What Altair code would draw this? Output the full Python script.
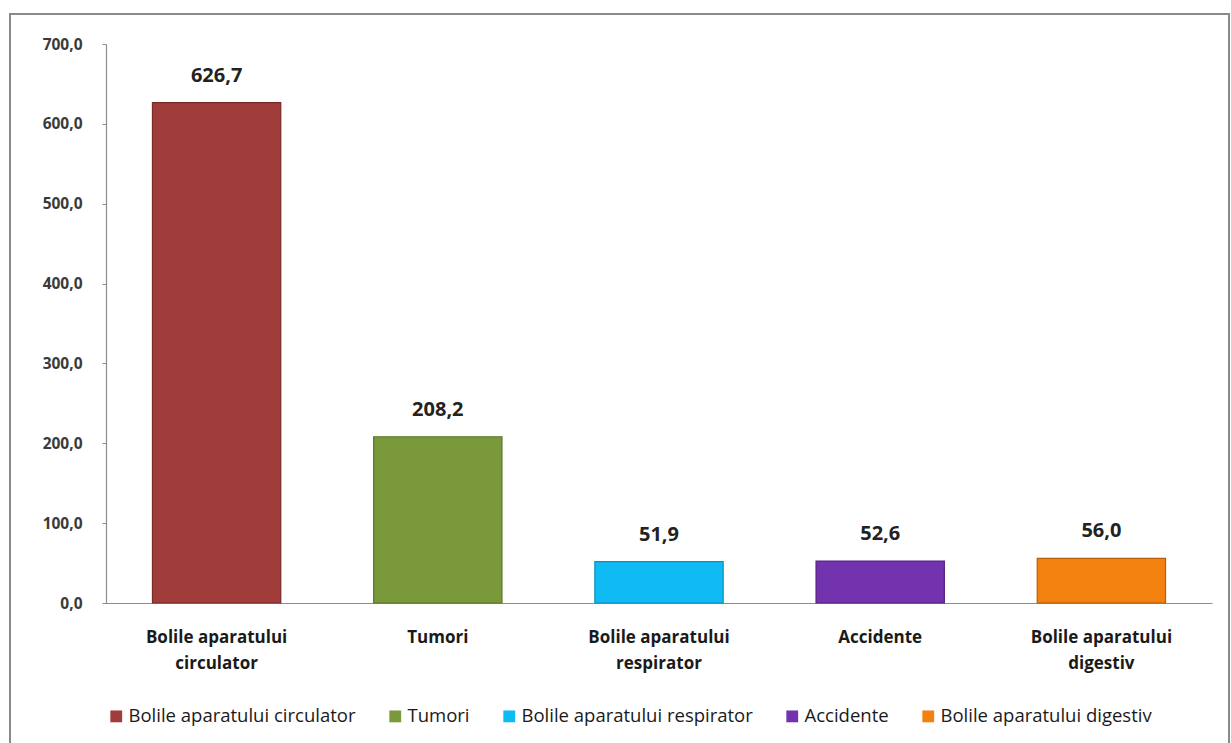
import altair as alt
import pandas as pd

categories = [
    "Bolile aparatului circulator",
    "Tumori",
    "Bolile aparatului respirator",
    "Accidente",
    "Bolile aparatului digestiv",
]
values = [626.7, 208.2, 51.9, 52.6, 56.0]
colors = ["#A03D3B", "#7A993B", "#0FBBF2", "#7433AE", "#F3810F"]
strokes = ["#7A2A28", "#5A7428", "#0A8EBA", "#55207F", "#B85E08"]
y_ticks = [0, 100, 200, 300, 400, 500, 600, 700]

df = pd.DataFrame({"cat": categories, "val": values})
df["lbl"] = [f"{v:.1f}".replace(".", ",") for v in values]

FONT = "Open Sans"
W, H = 1106, 559
PAD_L, PAD_T = 106, 44

x_enc = alt.X(
    "cat:N",
    sort=categories,
    scale=alt.Scale(paddingInner=0.42, paddingOuter=0.21),
    axis=alt.Axis(
        title=None,
        labelAngle=0,
        labelFont=FONT,
        labelFontWeight="bold",
        labelFontSize=17,
        labelColor="#1a1a1a",
        labelPadding=34,
        labelLineHeight=26,
        labelBaseline="middle",
        labelLimit=400,
        ticks=False,
        domainColor="#8c8c8c",
        domainWidth=1.2,
        labelExpr="substring(datum.label, 0, 18) == 'Bolile aparatului ' ? ['Bolile aparatului', substring(datum.label, 18)] : datum.label",
    ),
)
y_enc = alt.Y(
    "val:Q",
    scale=alt.Scale(domain=[0, 700], nice=False),
    axis=alt.Axis(
        title=None,
        values=y_ticks,
        grid=False,
        labelFont=FONT,
        labelFontWeight="bold",
        labelFontSize=15.5,
        labelColor="#3a3a3a",
        labelPadding=20,
        tickSize=4,
        tickColor="#8c8c8c",
        domainColor="#8c8c8c",
        domainWidth=1.2,
        labelExpr="replace(format(datum.value, '.1f'), '.', ',')",
    ),
)

color_enc = alt.Color(
    "cat:N",
    sort=categories,
    scale=alt.Scale(domain=categories, range=colors),
    legend=alt.Legend(
        title=None,
        orient="none",
        direction="horizontal",
        legendX=1,
        legendY=663,
        symbolType="square",
        symbolSize=140,
        symbolStrokeWidth=0,
        labelFont=FONT,
        labelFontSize=18.5,
        labelLimit=400,
        labelColor="#1a1a1a",
        labelOffset=3,
        columnPadding=30,
    ),
)

bars = alt.Chart(df).mark_bar(strokeWidth=1.2).encode(
    x=x_enc,
    y=y_enc,
    color=color_enc,
    stroke=alt.Stroke("cat:N", sort=categories,
                      scale=alt.Scale(domain=categories, range=strokes), legend=None),
)

text = alt.Chart(df).mark_text(
    font=FONT, fontWeight="bold", fontSize=20, color="#222222", dy=-27, baseline="middle"
).encode(
    x=alt.X("cat:N", sort=categories),
    y="val:Q",
    text="lbl:N",
)

frame = alt.Chart(pd.DataFrame({"a": [0]})).mark_rect(
    fill="transparent", stroke="#8a8a8a", strokeWidth=2
).encode(
    x=alt.value(10 - PAD_L),
    x2=alt.value(1229 - PAD_L),
    y=alt.value(14 - PAD_T),
    y2=alt.value(760 - PAD_T),
)

chart = alt.layer(frame, bars, text).properties(
    width=W,
    height=H,
    autosize=alt.AutoSizeParams(type="none"),
    padding={"left": PAD_L, "top": PAD_T, "right": 1231 - PAD_L - W, "bottom": 743 - PAD_T - H},
    background="white",
).configure_view(stroke=None)

chart.save("out.html", embed_options={"renderer": "svg", "actions": False})
